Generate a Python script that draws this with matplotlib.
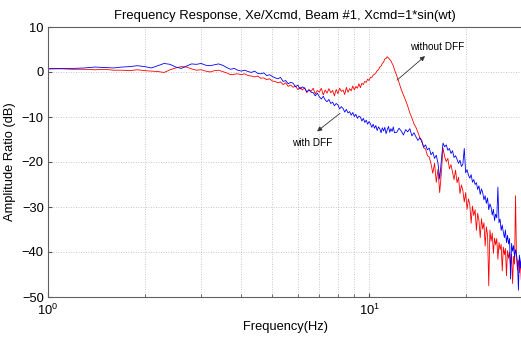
import matplotlib
matplotlib.use("Agg")
import matplotlib.pyplot as plt
from matplotlib.ticker import LogLocator, FixedLocator, NullFormatter

plt.rcParams['font.family'] = ['Liberation Sans', 'DejaVu Sans']
plt.rcParams['mathtext.fontset'] = 'custom'
plt.rcParams['mathtext.rm'] = 'Liberation Sans'
plt.rcParams['mathtext.it'] = 'Liberation Sans'

# ---------------- data ----------------
freq_a = [1.0, 1.1, 1.2, 1.3, 1.4, 1.5, 1.6, 1.7, 1.8, 1.9, 2.0, 2.1, 2.2, 2.3, 2.4,
          2.5, 2.6, 2.7, 2.8, 2.9, 3.0, 3.1, 3.2, 3.3, 3.4, 3.5, 3.6, 3.7, 3.8, 3.9,
          4.0, 4.1, 4.2, 4.3, 4.4, 4.5, 4.6, 4.7, 4.8, 4.9, 5.0]
blue_a = [0.7, 0.8, 0.8, 0.9, 1.1, 1.0, 0.9, 1.1, 1.2, 1.4, 1.2, 0.9, 1.4, 1.9, 1.7,
          1.1, 0.8, 1.3, 1.8, 1.7, 1.9, 1.5, 1.4, 1.6, 1.8, 1.5, 1.0, 0.6, 0.8, 0.4,
          0.2, 0.4, 0.1, -0.1, 0.2, -0.3, -0.4, -0.2, -0.8, -0.6, -1.0]
red_a = [0.7, 0.7, 0.6, 0.6, 0.5, 0.6, 0.4, 0.4, 0.3, 0.5, 0.3, 0.2, 0.1, -0.1, 0.5,
         0.9, 1.2, 1.1, 0.7, 0.4, 0.5, 0.2, 0.0, 0.3, 0.4, 0.1, -0.2, -0.6, -0.5, -0.4,
         -0.6, -0.4, -0.8, -0.9, -1.1, -0.9, -1.4, -1.3, -1.7, -1.5, -2.0]

freq_b = [5.1, 5.2, 5.3, 5.4, 5.5, 5.6, 5.7, 5.8, 5.9, 6.0, 6.1, 6.2, 6.3, 6.4, 6.5,
          6.6, 6.7, 6.8, 6.9, 7.0, 7.1, 7.2, 7.3, 7.4, 7.5, 7.6, 7.7, 7.8, 7.9, 8.0,
          8.1, 8.2, 8.3, 8.4, 8.5, 8.6, 8.7, 8.8, 8.9, 9.0, 9.1, 9.2, 9.3, 9.4, 9.5,
          9.6, 9.7, 9.8, 9.9, 10.0, 10.1, 10.2, 10.3, 10.4, 10.5, 10.6, 10.7, 10.8,
          10.9, 11.0, 11.1, 11.2, 11.3, 11.4, 11.5, 11.6, 11.7, 11.8, 11.9, 12.0]
blue_b = [-1.3, -1.5, -1.2, -2.1, -1.9, -2.6, -2.3, -2.5, -3.3, -2.9,
          -3.8, -3.3, -3.6, -4.4, -4.0, -4.5, -4.6, -5.3, -4.7, -5.5,
          -6.0, -5.4, -6.2, -6.6, -6.1, -7.0, -6.7, -7.5, -7.0, -7.3,
          -8.2, -7.7, -8.1, -8.9, -8.3, -9.1, -8.8, -9.6, -9.0, -9.9,
          -9.4, -10.3, -9.8, -10.0, -10.9, -10.3, -11.2, -10.7, -11.6, -11.0,
          -11.5, -12.3, -11.6, -12.5, -11.9, -13.0, -12.2, -12.6, -13.5, -12.4,
          -13.1, -12.3, -13.7, -12.8, -12.1, -13.4, -12.6, -13.2, -12.2, -13.5]
red_b = [-2.1, -2.4, -2.2, -2.8, -2.4, -3.2, -2.9, -3.4, -3.1, -3.9,
         -3.4, -4.0, -3.5, -4.6, -3.9, -4.3, -3.6, -4.9, -4.1, -4.5,
         -3.6, -5.1, -4.0, -4.7, -3.7, -4.6, -4.1, -5.3, -3.9, -4.8,
         -3.6, -4.3, -4.0, -5.0, -3.4, -4.5, -3.7, -4.2, -3.1, -4.0,
         -3.2, -3.6, -2.6, -3.5, -2.5, -2.8, -2.1, -2.3, -1.6, -1.9,
         -1.2, -1.2, -0.7, -0.5, -0.2, 0.3, 0.5, 1.1, 1.3, 1.9,
         2.2, 2.9, 3.0, 3.4, 3.1, 2.8, 2.5, 1.9, 1.4, 0.5]

freq_c = [12.2, 12.4, 12.6, 12.8, 13.0, 13.2, 13.4, 13.6, 13.8, 14.0, 14.2, 14.4,
          14.6, 14.8, 15.0, 15.2, 15.4, 15.6, 15.8, 16.0, 16.2, 16.4, 16.6, 16.8,
          17.0, 17.2, 17.4, 17.6, 17.8, 18.0, 18.2, 18.4, 18.6, 18.8, 19.0, 19.2,
          19.4, 19.6, 19.8, 20.0, 20.2, 20.4, 20.6, 20.8, 21.0, 21.2, 21.4, 21.6,
          21.8, 22.0, 22.2, 22.4, 22.6, 22.8, 23.0, 23.2, 23.4, 23.6, 23.8, 24.0,
          24.2, 24.4, 24.6, 24.8, 25.0, 25.2, 25.4, 25.6, 25.8, 26.0, 26.2, 26.4,
          26.6, 26.8, 27.0, 27.2, 27.4, 27.6, 27.8, 28.0, 28.2, 28.4, 28.6, 28.8,
          29.0, 29.2, 29.4, 29.6, 29.8, 30.0]
blue_c = [-13.4, -12.5, -13.1, -14.0, -12.8, -13.3, -12.6, -14.2, -13.5, -14.4,
          -15.2, -14.6, -15.5, -16.7, -16.2, -17.3, -16.9, -18.4, -17.8, -19.2,
          -18.5, -20.3, -23.8, -19.6, -15.8, -16.6, -16.2, -17.4, -17.0, -18.1,
          -17.5, -19.0, -18.6, -19.4, -20.3, -19.6, -21.0, -20.5, -17.0, -22.4,
          -21.7, -22.9, -23.6, -22.8, -24.5, -23.9, -25.0, -24.6, -26.1, -25.3,
          -27.2, -26.0, -26.8, -28.4, -27.5, -29.2, -28.0, -30.6, -29.3, -30.1,
          -31.8, -30.5, -33.0, -31.6, -32.4, -25.6, -33.5, -32.7, -35.2, -34.0,
          -35.6, -36.8, -35.1, -37.9, -36.3, -38.2, -37.0, -46.0, -38.1, -39.8,
          -38.6, -41.2, -39.5, -40.6, -42.3, -48.5, -40.7, -43.5, -41.2, -42.8]
red_c = [-0.8, -2.4, -3.9, -5.1, -6.3, -7.6, -9.1, -10.2, -11.5, -12.3,
         -13.4, -14.6, -15.2, -16.8, -17.1, -18.6, -18.9, -20.4, -22.5, -20.3,
         -24.5, -21.6, -26.8, -22.4, -16.9, -18.8, -19.9, -19.2, -21.5, -20.6,
         -22.3, -23.9, -21.8, -24.6, -23.4, -27.0, -25.1, -26.3, -28.9, -26.8,
         -30.5, -28.2, -29.4, -33.6, -29.8, -31.9, -30.6, -35.2, -31.4, -33.0,
         -36.8, -32.6, -34.9, -33.5, -38.7, -34.4, -36.2, -47.5, -35.1, -37.6,
         -35.8, -40.3, -36.9, -38.4, -37.0, -41.6, -37.9, -39.5, -38.3, -44.2,
         -38.9, -40.6, -39.2, -45.3, -39.7, -41.4, -40.0, -43.4, -40.5, -47.0,
         -41.0, -42.7, -27.5, -41.5, -44.0, -41.8, -44.6, -42.2, -46.2, -43.0]

freq = freq_a + freq_b + freq_c
with_dff = blue_a + blue_b + blue_c
without_dff = red_a + red_b + red_c

title = "Frequency Response, Xe/Xcmd, Beam #1, Xcmd=1*sin(wt)"
xlabel = "Frequency(Hz)"
ylabel = "Amplitude Ratio (dB)"
yticks = [-50, -40, -30, -20, -10, 0, 10]

# ---------------- figure ----------------
W, H = 521, 337
fig = plt.figure(figsize=(W / 100, H / 100), dpi=100)
ax = fig.add_axes([48 / W, 1 - 297 / H, 474.2 / W, 270 / H])

ax.plot(freq, without_dff, color='#ff0000', lw=0.6)
ax.plot(freq, with_dff, color='#0000ff', lw=0.6)

ax.set_xscale('log')
ax.set_xlim(1, 30)
ax.set_ylim(-50, 10)
ax.set_yticks(yticks)
ax.xaxis.set_major_locator(FixedLocator([1, 10]))
ax.xaxis.set_minor_locator(LogLocator(base=10, subs=range(2, 10)))
ax.xaxis.set_minor_formatter(NullFormatter())
ax.set_xticklabels([r'$10^{0}$', r'$10^{1}$'])

grid_kw = dict(color='#b4b4b4', lw=0.6, linestyle=(0, (1, 2)))
ax.grid(True, which='major', axis='both', **grid_kw)
ax.grid(True, which='minor', axis='x', **grid_kw)
ax.set_axisbelow(True)

ax.tick_params(which='both', direction='in', labelsize=9.3, color='#555555',
               top=False, right=False)
ax.tick_params(which='major', length=3)
ax.tick_params(which='minor', length=2)
ax.tick_params(axis='x', pad=4)
ax.tick_params(axis='y', pad=3)
for s in ax.spines.values():
    s.set_color('#606060')
    s.set_linewidth(0.8)

ax.set_title(title, fontsize=9.4, pad=6)
ax.set_xlabel(xlabel, fontsize=9.3, labelpad=2)
ax.set_ylabel(ylabel, fontsize=9.3, labelpad=4)

arrow_kw = dict(arrowstyle='-|>', color='#333333', lw=0.6,
                mutation_scale=7, shrinkA=0, shrinkB=0)
ax.annotate('', xy=(14.94, 3.53), xytext=(12.22, -1.82), arrowprops=arrow_kw)
ax.annotate('', xy=(6.89, -13.2), xytext=(8.12, -9.18), arrowprops=arrow_kw)
ax.text(16.3, 5.6, 'without DFF', fontsize=7.2, ha='center', va='center')
ax.text(6.64, -15.8, 'with DFF', fontsize=7.2, ha='center', va='center')

fig.savefig('out.png', dpi=100)
